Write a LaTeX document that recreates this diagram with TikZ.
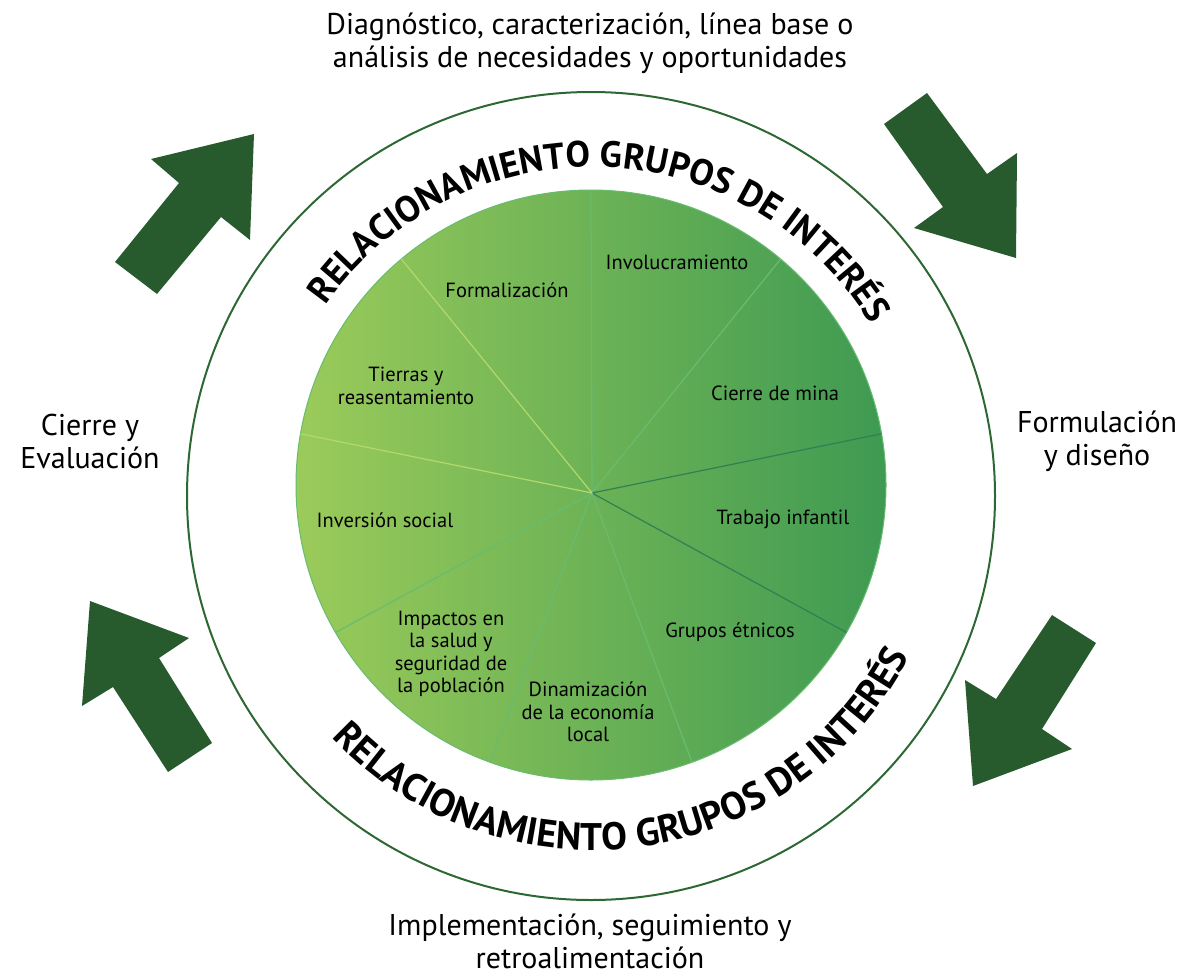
\documentclass[tikz,border=0pt]{standalone}
\usepackage{fontspec}
\setmainfont{PT Sans}
\usetikzlibrary{calc,decorations.text}
\definecolor{arrowgreen}{RGB}{39,91,45}
\definecolor{ringgreen}{RGB}{45,104,52}
\definecolor{pieleft}{RGB}{155,203,90}
\definecolor{pieright}{RGB}{62,154,82}
\definecolor{spokelight}{RGB}{180,216,108}
\definecolor{spokemid}{RGB}{104,188,112}
\definecolor{spokedark}{RGB}{48,128,84}
\tikzset{
  cyclearrow/.style={fill=arrowgreen, draw=none},
  pielabel/.style={font=\fontsize{20.5}{22.5}\selectfont, align=center, inner sep=0pt},
  stagelabel/.style={font=\fontsize{30}{33}\selectfont, align=center, inner sep=0pt},
  spoke/.style={line width=1.2pt},
  ringtext/.style 2 args={decorate, decoration={text along path, text align=center,
    text={|\fontsize{#1}{#1}\selectfont\bfseries|#2}}}
}

\begin{document}
\begin{tikzpicture}[x=1pt, y=1pt]
  \useasboundingbox (0,0) rectangle (1185,-971);
  \coordinate (hub) at (592,-493);
  \coordinate (piec) at (591,-485);

  % outer ring
  \draw[ringgreen, line width=2pt] (591,-496) circle (404);

  % pie with its ten slices
  \shade[left color=pieleft, right color=pieright] (piec) circle (295);
  \draw[spokemid, line width=1pt] (piec) circle (295);
  \foreach \a/\c in {90/spokemid, 50/spokemid, 10/spokedark, -30/spokedark,
                     -70/spokemid, -110/spokemid, -150/spokemid,
                     170/spokelight, 130/spokelight}
    \draw[spoke, \c] (hub) -- ($(piec)+(\a:295)$);

  \node[pielabel] (involucramiento) at (677,-262) {Involucramiento};
  \node[pielabel] (formalizacion) at (507,-290) {Formalización};
  \node[pielabel] (tierras) at (406,-386) {Tierras y\\reasentamiento};
  \node[pielabel] (cierremina) at (775,-393) {Cierre de mina};
  \node[pielabel] (inversion) at (385,-520) {Inversión social};
  \node[pielabel] (trabajo) at (783,-519) {Trabajo infantil};
  \node[pielabel] (etnicos) at (730,-632) {Grupos étnicos};
  \node[pielabel] (impactos) at (451,-654) {Impactos en\\la salud y\\seguridad de\\la población};
  \node[pielabel] (dinamizacion) at (588,-712) {Dinamización\\de la economía\\local};

  % text running round the pie
  \path[ringtext={36.5}{RELACIONAMIENTO GRUPOS DE INTER{É}S}]
    ($(hub)+(150:326)$) arc[start angle=150, end angle=26, radius=326];
  \path[ringtext={38.5}{RELACIONAMIENTO GRUPOS DE INTER{É}S}]
    ($(hub)+(218:357)$) arc[start angle=218, end angle=338, radius=357];

  % stages of the cycle
  \node[stagelabel] (diagnostico) at (590,-43) {Diagnóstico, caracterización, línea base o\\análisis de necesidades y oportunidades};
  \node[stagelabel] (formulacion) at (1097,-441) {Formulación\\y diseño};
  \node[stagelabel] (implementacion) at (590,-941) {Implementación, seguimiento y\\retroalimentación};
  \node[stagelabel] (cierre) at (90,-441) {Cierre y\\Evaluación};

  % arrows between the stages
  \fill[cyclearrow] (151,-159) -- (254,-134) -- (250,-240) -- (221,-217) -- (157,-294) -- (115,-262) -- (179,-183) -- cycle;
  \fill[cyclearrow] (884,-124) -- (927,-93) -- (987,-174) -- (1017,-153) -- (1016,-258) -- (914,-228) -- (943,-207) -- cycle;
  \fill[cyclearrow] (1052,-615) -- (1096,-643) -- (1042,-729) -- (1072,-749) -- (973,-786) -- (965,-680) -- (996,-699) -- cycle;
  \fill[cyclearrow] (90,-601) -- (189,-638) -- (159,-658) -- (212,-743) -- (168,-772) -- (113,-687) -- (82,-706) -- cycle;
\end{tikzpicture}
\end{document}
